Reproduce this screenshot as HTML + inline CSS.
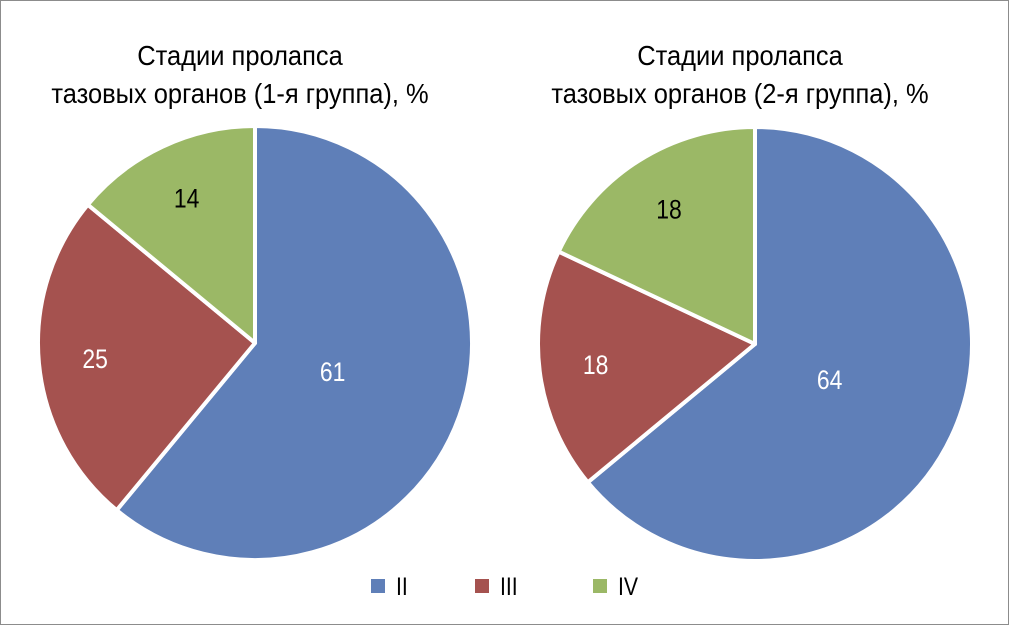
<!DOCTYPE html>
<html><head><meta charset="utf-8"><style>
html,body{margin:0;padding:0;background:#fff}
svg{display:block}
text{font-family:"Liberation Sans Narrow","Liberation Sans",sans-serif}
</style></head><body>
<svg width="1010" height="626">
<rect x="0.5" y="0.5" width="1008" height="624" fill="#fff" stroke="#8c8c8c"/>
<g id="charts"></g>
<g>
  <rect x="371" y="579" width="14" height="14" fill="#5f7fb8"/>
  <text transform="translate(396,595) scale(0.85,1)" font-size="25">II</text>
  <rect x="475" y="579" width="14" height="14" fill="#a5524f"/>
  <text transform="translate(500,595) scale(0.85,1)" font-size="25">III</text>
  <rect x="593" y="579" width="14" height="14" fill="#9bb866"/>
  <text transform="translate(618,595) scale(0.85,1)" font-size="25">IV</text>
</g>
</svg>
<script>
const categories = ["II", "III", "IV"];
const group1Values = [61, 25, 14];
const group2Values = [64, 18, 18];
const titles1 = ["Стадии пролапса", "тазовых органов (1-я группа), %"];
const titles2 = ["Стадии пролапса", "тазовых органов (2-я группа), %"];

const colors = ["#5f7fb8", "#a5524f", "#9bb866"];
const NS = "http://www.w3.org/2000/svg";
const root = document.getElementById("charts");

function drawPie(cx, cy, r, values, titles, idx) {
  const g = document.createElementNS(NS, "g");
  
  
  root.appendChild(g);
  titles.forEach((t, i) => {
    const tx = document.createElementNS(NS, "text");
    
    
    tx.setAttribute("transform", `translate(${cx - 15},${65 + i * 38}) scale(0.91,1)`);
    tx.setAttribute("text-anchor", "middle"); tx.setAttribute("font-size", "28");
    tx.textContent = t; g.appendChild(tx);
  });
  const total = values.reduce((a, b) => a + b, 0);
  let acc = 0;
  values.forEach((v, i) => {
    const a0 = acc / total * 2 * Math.PI, a1 = (acc + v) / total * 2 * Math.PI;
    acc += v;
    const x0 = cx + r * Math.sin(a0), y0 = cy - r * Math.cos(a0);
    const x1 = cx + r * Math.sin(a1), y1 = cy - r * Math.cos(a1);
    const large = (a1 - a0) > Math.PI ? 1 : 0;
    const p = document.createElementNS(NS, "path");
    
    
    p.setAttribute("d", `M${cx},${cy} L${x0},${y0} A${r},${r} 0 ${large} 1 ${x1},${y1} Z`);
    p.setAttribute("fill", colors[i]); p.setAttribute("stroke", "#fff"); p.setAttribute("stroke-width", "4");
    p.setAttribute("stroke-linejoin", "round");
    g.appendChild(p);
    const am = (a0 + a1) / 2;
    const f = v / total > 0.5 ? 0.38 : 0.74;
    const lt = document.createElementNS(NS, "text");
    
    
    lt.setAttribute("transform", `translate(${cx + f * r * Math.sin(am)},${cy - f * r * Math.cos(am) + 10}) scale(0.85,1)`);
    lt.setAttribute("text-anchor", "middle"); lt.setAttribute("font-size", "27");
    lt.setAttribute("fill", i === 2 ? "#000" : "#fff");
    lt.textContent = v; g.appendChild(lt);
  });
}
drawPie(255, 343, 217, group1Values, titles1, 1);
drawPie(755, 344, 217, group2Values, titles2, 2);
</script>
</body></html>
